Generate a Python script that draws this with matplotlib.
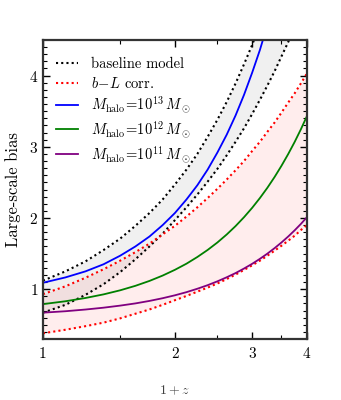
import matplotlib
matplotlib.use("Agg")
import matplotlib.pyplot as plt
import numpy as np

plt.rcParams['font.family'] = 'serif'
plt.rcParams['font.serif'] = ['cmr10', 'DejaVu Serif']
plt.rcParams['mathtext.fontset'] = 'cm'
plt.rcParams['axes.unicode_minus'] = False
plt.rcParams['axes.formatter.use_mathtext'] = True

nan = np.nan
# 1+z grid and bias values (nan = above the plotted range)
opz = np.array([1.0, 1.125, 1.25, 1.375, 1.5, 1.625, 1.75, 1.875, 2.0, 2.125, 2.25, 2.375, 2.5,
                2.625, 2.75, 2.875, 3.0, 3.125, 3.25, 3.375, 3.5, 3.625, 3.75, 3.875, 4.0])

base_hi = np.array([1.12, 1.25, 1.39, 1.55, 1.71, 1.89, 2.07, 2.26, 2.47, 2.68, 2.90, 3.14, 3.38,
                    3.63, 3.89, 4.16, 4.43, 4.72, nan, nan, nan, nan, nan, nan, nan])
base_lo = np.array([0.67, 0.78, 0.92, 1.07, 1.24, 1.42, 1.60, 1.78, 1.97, 2.15, 2.33, 2.51, 2.69,
                    2.88, 3.07, 3.26, 3.46, 3.66, 3.86, 4.06, 4.27, 4.47, 4.68, nan, nan])
bl_hi = np.array([0.93, 1.04, 1.16, 1.28, 1.40, 1.52, 1.64, 1.77, 1.89, 2.02, 2.15, 2.28, 2.41,
                  2.54, 2.67, 2.80, 2.94, 3.07, 3.21, 3.34, 3.48, 3.62, 3.75, 3.89, 4.03])
bl_lo = np.array([0.38, 0.43, 0.48, 0.53, 0.59, 0.655, 0.715, 0.78, 0.845, 0.905, 0.965, 1.022, 1.08,
                  1.142, 1.205, 1.27, 1.335, 1.40, 1.47, 1.54, 1.61, 1.68, 1.75, 1.83, 1.90])
m13 = np.array([1.09, 1.165, 1.25, 1.35, 1.47, 1.60, 1.74, 1.90, 2.07, 2.26, 2.46, 2.68, 2.92,
                3.17, 3.44, 3.73, 4.04, 4.36, 4.71, nan, nan, nan, nan, nan, nan])
m12 = np.array([0.79, 0.83, 0.876, 0.927, 0.984, 1.047, 1.116, 1.191, 1.272, 1.358, 1.452, 1.551, 1.656,
                1.768, 1.886, 2.011, 2.142, 2.28, 2.424, 2.575, 2.733, 2.897, 3.067, 3.245, 3.43])
m11 = np.array([0.67, 0.69, 0.714, 0.74, 0.769, 0.80, 0.835, 0.873, 0.914, 0.958, 1.006, 1.056, 1.11,
                1.167, 1.226, 1.29, 1.356, 1.426, 1.499, 1.576, 1.656, 1.739, 1.826, 1.916, 2.01])

fig = plt.figure(figsize=(3.41, 4.0), dpi=100)
ax = fig.add_axes([0.126, 0.1525, 0.774, 0.7475])

ymax = 4.5
dots = (0, (1, 1.5))
ax.fill_between(opz, base_lo, np.where(np.isnan(base_hi), ymax + 0.2, base_hi),
                color='k', alpha=0.06, lw=0)
ax.fill_between(opz, bl_lo, bl_hi, color='red', alpha=0.07, lw=0)
ax.plot(opz, base_hi, color='k', ls=dots, lw=1.5, label='baseline model')
ax.plot(opz, base_lo, color='k', ls=dots, lw=1.5)
ax.plot(opz, bl_hi, color='red', ls=dots, lw=1.5, label=r'$b\!-\!L$ corr.')
ax.plot(opz, bl_lo, color='red', ls=dots, lw=1.5)
ax.plot(opz, m13, color='blue', lw=1.3, label=r'$M_{\rm halo}\!=\!10^{13}\,M_\odot$')
ax.plot(opz, m12, color='green', lw=1.3, label=r'$M_{\rm halo}\!=\!10^{12}\,M_\odot$')
ax.plot(opz, m11, color='purple', lw=1.3, label=r'$M_{\rm halo}\!=\!10^{11}\,M_\odot$')

ax.set_xscale('log')
ax.set_xlim(1, 4)
ax.set_ylim(0.3, ymax)
ax.set_xticks([1, 2, 3, 4])
ax.set_xticklabels(['1', '2', '3', '4'])
ax.set_xticks([1.5, 2.5, 3.5], minor=True)
ax.xaxis.set_minor_formatter(matplotlib.ticker.NullFormatter())
ax.set_yticks([1, 2, 3, 4])
ax.set_yticks(np.arange(0.4, 4.5, 0.1), minor=True)

ax.tick_params(which='both', direction='in', top=True, right=True, labelsize=11)
ax.tick_params(which='major', length=5, width=1)
ax.tick_params(which='minor', length=3, width=0.8)
ax.tick_params(axis='x', pad=6)
for s in ax.spines.values():
    s.set_linewidth(1.6)
    s.set_color('0.2')

ax.set_ylabel('Large-scale bias', fontsize=12, labelpad=6)
ax.set_xlabel(r'$1+z$', fontsize=10, labelpad=16, color='0.25')

ax.legend(loc='upper left', frameon=False, fontsize=10.5, handlelength=1.5,
          handletextpad=0.9, labelspacing=0.3, bbox_to_anchor=(0.0, 0.985))

fig.savefig('out.png', dpi=100)
